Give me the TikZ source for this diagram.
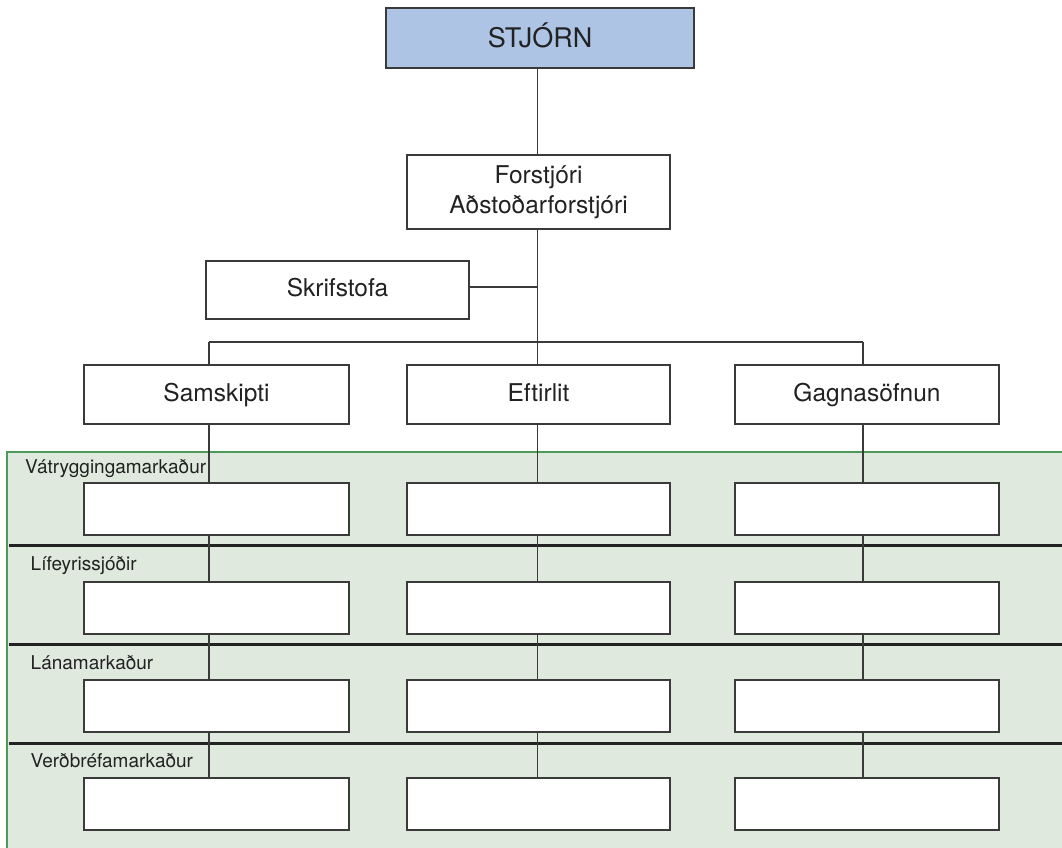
\documentclass[tikz,border=0pt]{standalone}
\usepackage{fontspec}
\setmainfont{TeX Gyre Heros}
\definecolor{stjfill}{HTML}{AEC4E5}
\definecolor{panelfill}{HTML}{DFE9DE}
\definecolor{panelline}{HTML}{4F9A5B}
\definecolor{ink}{HTML}{3A3A3A}
\definecolor{txt}{HTML}{222222}
\begin{document}
\begin{tikzpicture}[x=1pt,y=-1pt,
  box/.style={draw=ink, line width=1.3pt, fill=white, inner sep=0pt, text=txt,
    font=\fontsize{24.5}{30}\selectfont, align=center},
  oneline/.style={text height=17.5pt, text depth=4.5pt},
  link/.style={draw=ink, line width=1.6pt},
  sepline/.style={draw=txt, line width=3pt},
  rowlabel/.style={anchor=base west, inner sep=0pt, text=txt, font=\fontsize{19}{22}\selectfont}]
\useasboundingbox (0,0) rectangle (1062,847);
\clip (0,0) rectangle (1062,847);
% panel
\fill[panelfill] (7,452) rectangle (1070,860);
\draw[panelline, line width=1.5pt] (7,860) -- (7,452) -- (1070,452);
% separators
\foreach \y in {545.5,644,743} \draw[sepline] (9,\y) -- (1070,\y);
% row labels
\node[rowlabel] (l1) at (25,473) {Vátryggingamarkaður};
\node[rowlabel] (l2) at (30.5,570) {Lífeyrissjóðir};
\node[rowlabel] (l3) at (30.5,669) {Lánamarkaður};
\node[rowlabel] (l4) at (30.5,767) {Verðbréfamarkaður};
% top boxes
\node[box, fill=stjfill, minimum width=308pt, minimum height=60pt, font=\fontsize{27}{30}\selectfont,
  text height=19pt, text depth=1pt] (stjorn) at (540,38) {STJÓRN};
\node[box, minimum width=263pt, minimum height=74pt] (forst) at (538.5,192) {Forstjóri\\Aðstoðarforstjóri};
\node[box, oneline, minimum width=263pt, minimum height=58pt] (skrif) at (337.5,290) {Skrifstofa};
\node[box, oneline, minimum width=265pt, minimum height=59pt] (c1) at (216.5,394.5) {Samskipti};
\node[box, oneline, minimum width=263pt, minimum height=59pt] (c2) at (538.5,394.5) {Eftirlit};
\node[box, oneline, minimum width=264pt, minimum height=59pt] (c3) at (867,394.5) {Gagnasöfnun};
% row boxes
\foreach \r/\yy in {1/509,2/608,3/706,4/804}{
  \node[box, minimum width=265pt, minimum height=52pt] (r\r c1) at (216.5,\yy) {};
  \node[box, minimum width=263pt, minimum height=52pt] (r\r c2) at (538.5,\yy) {};
  \node[box, minimum width=264pt, minimum height=52pt] (r\r c3) at (867,\yy) {};
}
% line positions
\coordinate (x1) at (209,0);
\coordinate (x2) at (537.5,0);
\coordinate (x3) at (863,0);
\coordinate (bar) at (0,342);
\coordinate (sk) at (0,287);
% connectors
\draw[link] (stjorn.south -| x2) -- (forst.north -| x2);
\draw[link] (forst.south -| x2) -- (bar -| x2);
\draw[link] (skrif.east |- sk) -- (x2 |- sk);
\draw[link] (bar -| x1) -- (bar -| x3);
\foreach \c in {1,2,3}{
  \draw[link] (bar -| x\c) -- (c\c.north -| x\c);
  \draw[link] (c\c.south -| x\c) -- (r1c\c.north -| x\c);
  \draw[link] (r1c\c.south -| x\c) -- (r2c\c.north -| x\c);
  \draw[link] (r2c\c.south -| x\c) -- (r3c\c.north -| x\c);
  \draw[link] (r3c\c.south -| x\c) -- (r4c\c.north -| x\c);
}
\end{tikzpicture}
\end{document}
